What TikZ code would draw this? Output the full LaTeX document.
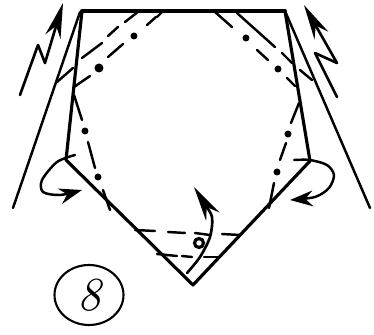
\documentclass[tikz,border=0pt]{standalone}
\usepackage{tikz}
\usetikzlibrary{arrows.meta,shapes.geometric}
\tikzset{
  edgeline/.style={line width=1.8pt,line cap=round,line join=round},
  outerline/.style={line width=1.4pt,line cap=round},
  foldline/.style={line width=1.4pt,line cap=round},
  turnarrow/.style={line width=1.5pt,line cap=round,line join=round,-{Stealth[length=20pt,width=9pt]}},
  curlarrow/.style={line width=1.4pt,line cap=round,-{Stealth[length=13pt,width=9pt]}},
  stepmark/.style={draw,ellipse,line width=1.2pt,minimum width=69*0.02cm,minimum height=60*0.02cm,inner sep=0pt}
}
\begin{document}
\begin{tikzpicture}[scale=0.02, yscale=-1]
\useasboundingbox (0,0) rectangle (374,335);
\draw[edgeline,line width=2.2pt] (82,11) -- (285,11);
\draw[edgeline] (82,11) -- (66,160) -- (193,285) -- (310,161) -- (285,11);
\draw[outerline] (80,12) -- (13,208);
\draw[outerline] (285,11) -- (370,208);
\draw[turnarrow] (20,95) -- (38,45) -- (45,63) -- (63,3);
\draw[turnarrow] (337,97) -- (315,53) -- (337,63) -- (304,5);
\draw[foldline] (139,11) -- (125,22);
\draw[foldline] (118,27) -- (108,36);
\draw[foldline] (102,43) -- (82,58);
\draw[foldline] (73,68) -- (57,82);
\draw[foldline] (163,11) -- (157,17);
\draw[foldline] (156,17) -- (147,25);
\draw[foldline] (123,44) -- (108,57);
\draw[foldline] (90,76) -- (74,87);
\draw[foldline] (74,95) -- (82,120);
\draw[foldline] (88,142) -- (95,168);
\draw[foldline] (103,190) -- (110,210);
\draw[foldline] (215,12) -- (232,27);
\draw[foldline] (237,13) -- (275,47);
\draw[foldline] (282,53) -- (292,63);
\draw[foldline] (300,70) -- (312,80);
\draw[foldline] (257,50) -- (268,60);
\draw[foldline] (287,78) -- (295,86);
\draw[foldline] (299,103) -- (291,123);
\draw[foldline] (286,143) -- (280,160);
\draw[foldline] (274,183) -- (269,208);
\draw[foldline] (135,230) -- (155,231);
\draw[foldline] (168,232) -- (185,233);
\draw[foldline] (195,233) -- (210,235);
\draw[foldline] (222,234) -- (240,235);
\draw[foldline] (157,254) -- (177,256);
\draw[foldline] (182,256) -- (192,257);
\draw[foldline] (204,257) -- (219,257);
\fill[black] (134,36) circle (3.5);
\fill[black] (99,68) circle (4.5);
\fill[black] (85,131) circle (3.5);
\fill[black] (98,177) circle (3.5);
\fill[black] (246,38) circle (3.5);
\fill[black] (278,69) circle (3.5);
\fill[black] (288,134) circle (3.5);
\fill[black] (277,172) circle (3.5);
\draw[line width=1.8pt] (199,243) circle (4.5);
\draw[curlarrow] plot[smooth] coordinates {(75,155) (57,162) (42,180) (43,192) (60,195) (82,190)};
\draw[curlarrow] plot[smooth] coordinates {(294,160) (310,160) (327,165) (334,175) (329,188) (315,197) (290,200)};
\draw[turnarrow] plot[smooth] coordinates {(187,273) (200,257) (210,237) (212,217) (204,203) (194,187)};
\node[stepmark] (stepnum) at (89,295) {\fontsize{27}{30}\selectfont\itshape 8};
\end{tikzpicture}
\end{document}
